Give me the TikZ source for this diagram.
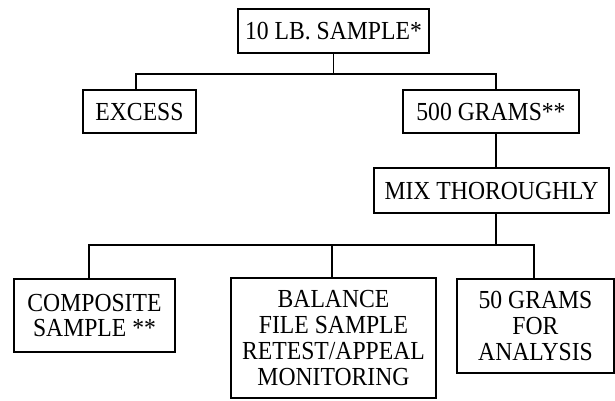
\documentclass[tikz,border=0pt]{standalone}
\usepackage{fontspec}
\setmainfont{Liberation Serif}[FakeStretch=0.91]
\begin{document}
\begin{tikzpicture}[x=1pt,y=-1pt,
  box/.style={draw,line width=1.9pt,inner sep=0pt,align=center,
    font=\fontsize{26}{25.7}\selectfont},
  onebox/.style={box,text height=17.5pt,text depth=0pt},
  link/.style={line width=1.9pt}]
\useasboundingbox (0,0) rectangle (615,400);
\node[onebox,minimum width=191pt,minimum height=44pt] (top) at (333.5,31) {10 LB. SAMPLE*};
\node[onebox,minimum width=113pt,minimum height=43pt] (excess) at (139.5,111.5) {EXCESS};
\node[onebox,minimum width=176pt,minimum height=43pt] (g500) at (491,111.5) {500 GRAMS**};
\node[onebox,minimum width=235pt,minimum height=45pt] (mix) at (491.5,190.5) {MIX THOROUGHLY};
\node[box,minimum width=161pt,minimum height=73pt] (comp) at (94.5,315.5) {COMPOSITE\\SAMPLE **};
\node[box,minimum width=205pt,minimum height=120pt] (bal) at (333.5,338) {BALANCE\\FILE SAMPLE\\RETEST/APPEAL\\MONITORING};
\node[box,minimum width=157pt,minimum height=94pt] (fifty) at (535.5,326) {50 GRAMS\\FOR\\ANALYSIS};
\coordinate (j1) at (333.5,74);
\coordinate (j2) at (496,245);
\draw[link] (top.south) -- (j1);
\draw[link] ([xshift=-3.5pt]excess.north) |- (j1) -| ([xshift=5pt]g500.north);
\draw[link] ([xshift=5pt]g500.south) -- ([xshift=4.5pt]mix.north);
\draw[link] ([xshift=4.5pt]mix.south) -- (j2);
\draw[link] ([xshift=-5.5pt]comp.north) |- (j2) -| ([xshift=-1.5pt]fifty.north);
\draw[link] ([xshift=-1.5pt]bal.north) -- ([xshift=-1.5pt]bal.north |- j2);
\end{tikzpicture}
\end{document}
